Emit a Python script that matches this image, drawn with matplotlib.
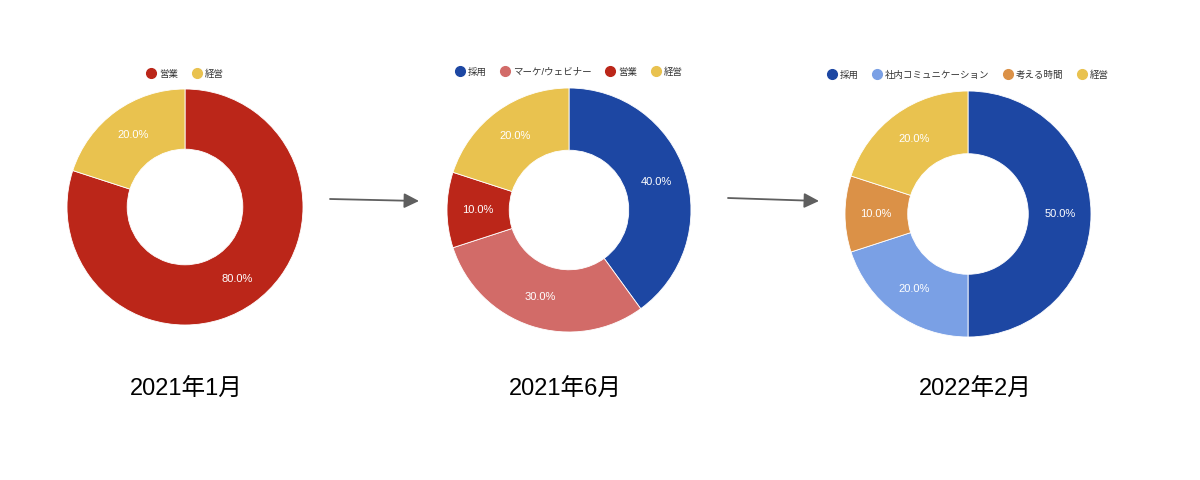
import matplotlib
matplotlib.use("Agg")
import matplotlib.pyplot as plt
from matplotlib.lines import Line2D
from matplotlib.patches import FancyArrowPatch

plt.rcParams['font.family'] = ['Liberation Sans', 'Noto Sans CJK JP', 'DejaVu Sans']

# Data
titles = ["2021年1月", "2021年6月", "2022年2月"]
labels1 = ["営業", "経営"]
values1 = [80, 20]
labels2 = ["採用", "マーケ/ウェビナー", "営業", "経営"]
values2 = [40, 30, 10, 20]
labels3 = ["採用", "社内コミュニケーション", "考える時間", "経営"]
values3 = [50, 20, 10, 20]

colors = {
    "営業": "#BB2619",
    "経営": "#E9C24F",
    "採用": "#1D47A3",
    "マーケ/ウェビナー": "#D26B68",
    "社内コミュニケーション": "#7AA0E5",
    "考える時間": "#DB9147",
}

W, H = 1200, 480
fig = plt.figure(figsize=(W / 100, H / 100), dpi=100)
fig.patch.set_facecolor("white")

# layout (pixels): center x, center y, radius, legend y, title y
charts = [
    (labels1, values1, 185, 207, 118, 74, 390),
    (labels2, values2, 569, 210, 122, 72, 390),
    (labels3, values3, 968, 214, 123, 75, 390),
]
title_x = [186, 565, 975]

for i, (labs, vals, cx, cy, r, ly, ty) in enumerate(charts):
    ax = fig.add_axes([(cx - r) / W, (H - cy - r) / H, 2 * r / W, 2 * r / H])
    wedges, texts, autotexts = ax.pie(
        vals, colors=[colors[l] for l in labs], startangle=90, counterclock=False,
        radius=1.0, autopct="%.1f%%", pctdistance=0.75,
        wedgeprops=dict(width=0.51, edgecolor="white", linewidth=0.6),
        textprops=dict(color="white", fontsize=8),
    )
    ax.set_xlim(-1, 1)
    ax.set_ylim(-1, 1)
    ax.set_aspect("equal")
    ax.axis("off")

    handles = [Line2D([0], [0], marker="o", linestyle="", markersize=7,
                      markerfacecolor=colors[l], markeredgecolor=colors[l]) for l in labs]
    fig.legend(handles, labs, loc="center", bbox_to_anchor=(cx / W, 1 - ly / H),
               ncol=len(labs), frameon=False, fontsize=6.8, handletextpad=0.35,
               columnspacing=1.45, handlelength=1.0, labelcolor="#333333")

    fig.text(title_x[i] / W, 1 - ty / H, titles[i], ha="center", va="center",
             fontsize=17, color="black")

# arrows
for (x0, x1, y0, y1) in [(330, 419, 199, 201), (728, 819, 198, 201)]:
    fig.add_artist(FancyArrowPatch(
        (x0 / W, 1 - y0 / H), (x1 / W, 1 - y1 / H), transform=fig.transFigure,
        arrowstyle="-|>,head_length=6,head_width=3", color="#5f5f5f", linewidth=1.3,
        mutation_scale=1.5, shrinkA=0, shrinkB=0))

fig.savefig("out.png", dpi=100, facecolor="white")
